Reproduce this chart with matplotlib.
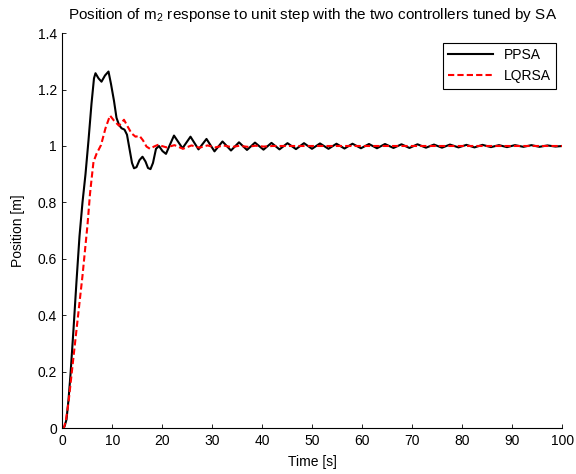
import numpy as np
import matplotlib
matplotlib.use("Agg")
from matplotlib import pyplot as plt

# step responses (time in s, position in m)
t_ppsa = [0, 0.4, 0.8, 1.2, 1.6, 2.2, 2.8, 3.4, 4.0, 4.6,
          5.2, 5.8, 6.3, 6.6, 7.2, 7.8, 8.5, 9.2, 9.7, 10.3,
          10.8, 11.3, 11.8, 12.4, 12.9, 13.4, 13.9, 14.3, 14.8, 15.4,
          16.0, 16.6, 17.1, 17.6, 18.1, 18.7, 19.3, 20.0, 20.7, 21.5,
          22.3, 24.0, 25.6, 27.2, 28.8, 30.4, 32.0, 33.7, 35.3, 36.9,
          38.5, 40.2, 41.8, 43.4, 45.0, 46.7, 48.3, 49.9, 51.5, 53.2,
          54.8, 56.4, 58.0, 59.7, 61.3, 62.9, 64.5, 66.2, 67.8, 69.4,
          71.0, 72.7, 74.3, 75.9, 77.5, 79.2, 80.8, 82.4, 84.0, 85.7,
          87.3, 88.9, 90.5, 92.2, 93.8, 95.4, 97.0, 98.6, 100]
y_ppsa = [0, 0.005, 0.03, 0.10, 0.19, 0.35, 0.52, 0.68, 0.80, 0.90,
          1.02, 1.15, 1.24, 1.258, 1.24, 1.228, 1.25, 1.264, 1.22, 1.16,
          1.10, 1.075, 1.063, 1.058, 1.04, 0.99, 0.94, 0.921, 0.925, 0.95,
          0.962, 0.945, 0.922, 0.918, 0.94, 0.99, 1.0, 0.982, 0.972, 1.005,
          1.037, 0.992, 1.033, 0.988, 1.025, 0.981, 1.016, 0.984, 1.013, 0.986,
          1.012, 0.987, 1.011, 0.988, 1.010, 0.989, 1.010, 0.990, 1.009, 0.990,
          1.008, 0.991, 1.008, 0.992, 1.007, 0.992, 1.007, 0.993, 1.006, 0.993,
          1.006, 0.994, 1.005, 0.994, 1.005, 0.995, 1.004, 0.995, 1.004, 0.996,
          1.003, 0.996, 1.003, 0.997, 1.003, 0.997, 1.002, 0.998, 1.0]

t_lqr = [0, 0.3, 0.7, 1.2, 2.0, 3.0, 4.0, 5.0, 5.5, 5.8,
         6.2, 6.8, 7.7, 8.6, 9.5, 10.3, 11.3, 12.3, 13.0, 13.8,
         14.6, 15.4, 16.1, 16.8, 17.5, 18.3, 19.1, 20.8, 22.4, 24.1,
         25.8, 27.4, 29.0, 30.6, 32.2, 33.8, 35.4, 37.0, 38.6, 40.2,
         42.0, 100]
y_lqr = [0, 0.002, 0.03, 0.09, 0.22, 0.38, 0.54, 0.72, 0.83, 0.88,
         0.944, 0.972, 1.003, 1.063, 1.108, 1.09, 1.072, 1.093, 1.07, 1.045,
         1.033, 1.036, 1.02, 0.998, 0.99, 0.998, 1.004, 0.995, 1.003, 0.990,
         1.002, 0.994, 1.002, 0.995, 1.002, 0.996, 1.001, 0.997, 1.001, 0.998,
         1.0, 1.0]

x_ticks = list(range(0, 101, 10))
y_ticks = [0, 0.2, 0.4, 0.6, 0.8, 1.0, 1.2, 1.4]
y_ticklabels = ["0", "0.2", "0.4", "0.6", "0.8", "1", "1.2", "1.4"]

plt.rcParams["font.family"] = ["Liberation Sans", "DejaVu Sans"]
plt.rcParams["font.size"] = 10

fig = plt.figure(figsize=(5.76, 4.74), dpi=100)
ax = fig.add_axes([0.1085, 0.097, 0.868, 0.833])

ax.plot(t_ppsa, y_ppsa, color="black", lw=1.5, label="PPSA")
ax.plot(t_lqr, y_lqr, color="red", lw=1.5, ls="--", dashes=(3, 1.5), label="LQRSA")

ax.set_xlim(0, 100)
ax.set_ylim(0, 1.4)
ax.set_xticks(x_ticks)
ax.set_yticks(y_ticks)
ax.set_yticklabels(y_ticklabels)
ax.tick_params(direction="in", length=3, width=0.6, pad=4)
for s in ["top", "right"]:
    ax.spines[s].set_visible(False)
for s in ["left", "bottom"]:
    ax.spines[s].set_linewidth(0.8)

ax.set_xlabel("Time [s]", labelpad=5)
ax.set_ylabel("Position [m]", labelpad=9)
ax.set_title(r"Position of m$_{\mathregular{2}}$ response to unit step with the two controllers tuned by SA",
             fontsize=11, pad=10)

leg = ax.legend(loc="upper right", bbox_to_anchor=(0.988, 0.976), borderaxespad=0,
                fancybox=False, framealpha=1, edgecolor="black", handlelength=3.2)
leg.get_frame().set_linewidth(0.8)

fig.savefig("out.png", dpi=100)
